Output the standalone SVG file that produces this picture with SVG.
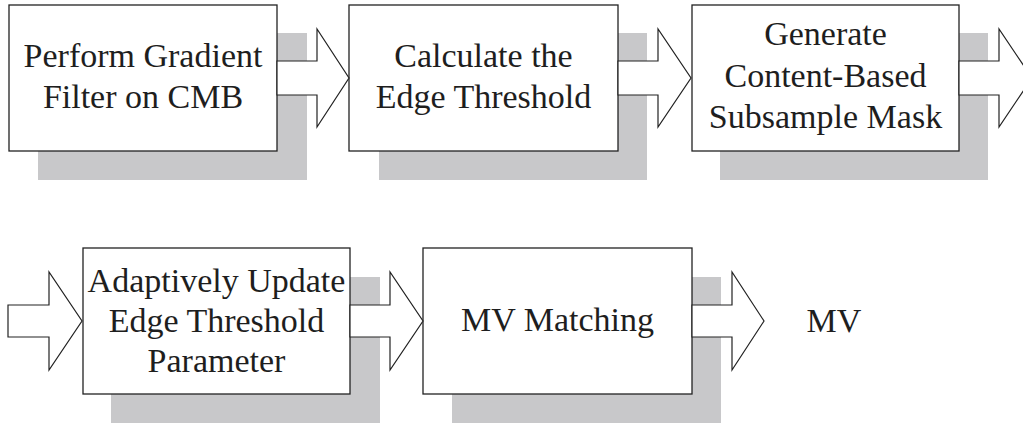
<svg xmlns="http://www.w3.org/2000/svg" width="1023" height="426" viewBox="0 0 1023 426">
  <style>
    .shadow { fill: #c8c8ca; stroke: none; }
    .box { fill: #ffffff; stroke: #222222; stroke-width: 1.3; }
    .arrow { fill: #ffffff; stroke: #222222; stroke-width: 1.2; stroke-linejoin: miter; }
    .label { fill: #1e1e1e; text-anchor: middle; }
  </style>
  <rect width="1023" height="426" fill="#ffffff"/>

  <g font-family="Liberation Serif" font-size="34">
    <!-- process blocks: drop shadow, box, label -->
    <g id="node-gradient">
      <rect class="shadow" x="38" y="33" width="269" height="147"/>
      <rect class="box" x="9" y="5" width="268" height="146"/>
      <text class="label" x="143" y="67">Perform Gradient</text>
      <text class="label" x="143" y="108">Filter on CMB</text>
    </g>
    <g id="node-threshold">
      <rect class="shadow" x="379" y="33" width="268" height="147"/>
      <rect class="box" x="349" y="5" width="269" height="146"/>
      <text class="label" x="483.5" y="67">Calculate the</text>
      <text class="label" x="483.5" y="108">Edge Threshold</text>
    </g>
    <g id="node-mask">
      <rect class="shadow" x="720" y="33" width="268" height="147"/>
      <rect class="box" x="692" y="5" width="267" height="146"/>
      <text class="label" x="825.5" y="45">Generate</text>
      <text class="label" x="825.5" y="87">Content-Based</text>
      <text class="label" x="825.5" y="128">Subsample Mask</text>
    </g>
    <g id="node-update">
      <rect class="shadow" x="111" y="277" width="269" height="146"/>
      <rect class="box" x="83" y="248" width="267" height="146"/>
      <text class="label" x="216.5" y="292">Adaptively Update</text>
      <text class="label" x="216.5" y="332">Edge Threshold</text>
      <text class="label" x="216.5" y="372">Parameter</text>
    </g>
    <g id="node-matching">
      <rect class="shadow" x="452" y="277" width="269" height="146"/>
      <rect class="box" x="423" y="248" width="269" height="146"/>
      <text class="label" x="557.5" y="331">MV Matching</text>
    </g>
    <g id="node-output">
      <text class="label" x="834" y="332">MV</text>
    </g>
  </g>

  <!-- block arrows between stages -->
  <g id="connectors">
    <polygon class="arrow" points="277,61 317,61 317,29 349,78 317,127 317,95 277,95"/>
    <polygon class="arrow" points="618,61 658,61 658,29 691,78 658,127 658,95 618,95"/>
    <polygon class="arrow" points="959,61 999,61 999,29 1032,78 999,127 999,95 959,95"/>
    <polygon class="arrow" points="8,305 49,305 49,272 82,321 49,370 49,337 8,337"/>
    <polygon class="arrow" points="350,305 390,305 390,272 423,321 390,370 390,337 350,337"/>
    <polygon class="arrow" points="692,305 732,305 732,272 764,321 732,370 732,337 692,337"/>
  </g>
</svg>
